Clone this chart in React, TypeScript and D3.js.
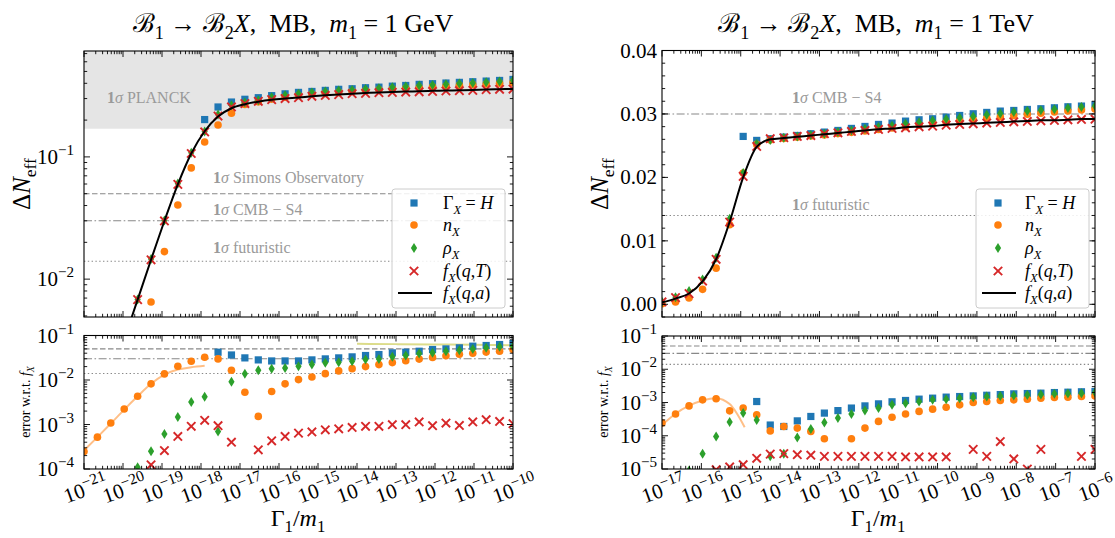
import React from 'react';
import * as d3 from 'd3';

// ---------- x grids (log10 of Gamma1/m1) ----------
const LEFT_EXP = [-21, -20.656, -20.313, -19.969, -19.625, -19.281, -18.938, -18.594, -18.25, -17.906, -17.563, -17.219, -16.875, -16.531, -16.188, -15.844, -15.5, -15.156, -14.813, -14.469, -14.125, -13.781, -13.438, -13.094, -12.75, -12.406, -12.063, -11.719, -11.375, -11.031, -10.688, -10.344, -10];
const RIGHT_EXP = [-17, -16.656, -16.313, -15.969, -15.625, -15.281, -14.938, -14.594, -14.25, -13.906, -13.563, -13.219, -12.875, -12.531, -12.188, -11.844, -11.5, -11.156, -10.813, -10.469, -10.125, -9.781, -9.438, -9.094, -8.75, -8.406, -8.063, -7.719, -7.375, -7.031, -6.688, -6.344, -6];

const N = null;
// ---------- left (m1 = 1 GeV) Delta N_eff ----------
const L_GAMMA_H = [N, N, N, N, N, N, N, N, N, 0.202, 0.256, 0.281, 0.296, 0.305, 0.317, 0.328, 0.337, 0.343, 0.350, 0.357, 0.361, 0.368, 0.372, 0.379, 0.384, 0.392, 0.397, 0.402, 0.407, 0.412, 0.417, 0.422, 0.430];
const L_NX = [N, N, N, N, N, 0.0065, 0.0168, 0.0404, 0.0813, 0.1325, 0.1824, 0.228, 0.268, 0.282, 0.297, 0.308, 0.318, 0.325, 0.331, 0.337, 0.343, 0.348, 0.354, 0.359, 0.364, 0.370, 0.375, 0.380, 0.385, 0.390, 0.395, 0.400, 0.407];
const L_RHOX = [N, N, N, N, 0.0068, 0.0146, 0.0302, 0.0605, 0.108, 0.161, 0.222, 0.264, 0.278, 0.290, 0.308, 0.319, 0.329, 0.336, 0.342, 0.349, 0.353, 0.360, 0.364, 0.371, 0.376, 0.383, 0.388, 0.393, 0.398, 0.403, 0.408, 0.413, 0.421];
const L_FQT = [N, N, N, N, 0.0068, 0.0144, 0.0299, 0.0596, 0.1066, 0.160, 0.216, 0.256, 0.273, 0.285, 0.294, 0.300, 0.305, 0.313, 0.318, 0.323, 0.329, 0.331, 0.335, 0.337, 0.339, 0.341, 0.343, 0.346, 0.348, 0.350, 0.355, 0.357, 0.359];
const L_FQA = [N, N, N, 0.0032, 0.0068, 0.0144, 0.0299, 0.0596, 0.1066, 0.162, 0.214, 0.250, 0.270, 0.283, 0.293, 0.300, 0.306, 0.313, 0.319, 0.324, 0.329, 0.333, 0.337, 0.340, 0.342, 0.345, 0.347, 0.349, 0.351, 0.353, 0.356, 0.358, 0.360];

// ---------- left errors ----------
const LE_GAMMA_H = [N, N, N, N, N, N, N, N, N, N, 0.0421, 0.0365, 0.0314, 0.0283, 0.0268, 0.0268, 0.0268, 0.0283, 0.0298, 0.0314, 0.0331, 0.0355, 0.0373, 0.0407, 0.0421, 0.0443, 0.0484, 0.050, 0.0528, 0.0575, 0.0596, 0.0627, 0.066];
const LE_NX = [2.48e-4, 5.2e-4, 1.08e-3, 2.23e-3, 4.3e-3, 8.2e-3, 0.0137, 0.0204, 0.0264, 0.0325, 0.0298, 0.0166, 5.3e-3, 1.52e-3, 5.5e-3, 8.2e-3, 0.0102, 0.0117, 0.0139, 0.0160, 0.0180, 0.0200, 0.0222, 0.0246, 0.0270, 0.0295, 0.0322, 0.0350, 0.0380, 0.0400, 0.0424, 0.0443, 0.0484];
const LE_RHOX = [N, N, N, N, 1.1e-4, 2.5e-4, 6.1e-4, 1.47e-3, 3.2e-3, 4.2e-3, 7.0e-4, 9.1e-3, 0.0139, 0.0166, 0.0178, 0.0187, 0.0204, 0.0222, 0.0243, 0.0251, 0.0264, 0.0288, 0.0298, 0.0331, 0.0355, 0.0393, 0.0407, 0.0443, 0.0467, 0.050, 0.0528, 0.0556, 0.0575];
const LE_FQT = [N, N, N, N, N, 1.24e-4, 2.6e-4, 5.4e-4, 9.1e-4, 1.24e-3, 9.4e-4, 4.0e-4, N, 2.7e-4, 4.3e-4, 5.4e-4, 6.4e-4, 6.8e-4, 7.6e-4, 8.0e-4, 8.6e-4, 9.1e-4, 9.1e-4, 9.9e-4, 9.9e-4, 1.14e-3, 9.4e-4, 1.08e-3, 9.5e-4, 1.14e-3, 1.28e-3, 1.17e-3, 1.04e-3];
const LE_NX_CURVE_EXP = [-21, -20.656, -20.313, -19.969, -19.625, -19.281, -18.938, -18.594, -18.25, -17.906];
const LE_NX_CURVE = [2.6e-4, 5.2e-4, 1.05e-3, 2.16e-3, 4.3e-3, 8.2e-3, 0.0132, 0.0172, 0.0193, 0.0208];
const LE_YELLOW_EXP = [-14, -13, -12, -11, -10];
const LE_YELLOW = [0.065, 0.064, 0.063, 0.062, 0.0605];

// ---------- right (m1 = 1 TeV) Delta N_eff ----------
const R_GAMMA_H = [N, N, N, N, N, N, 0.02646, 0.02583, 0.02609, 0.02635, 0.02661, 0.02688, 0.02714, 0.0274, 0.02772, 0.02803, 0.02835, 0.02856, 0.02887, 0.02908, 0.02924, 0.0295, 0.02976, 0.03003, 0.03024, 0.03045, 0.03055, 0.03071, 0.03082, 0.03097, 0.03113, 0.03124, 0.03145];
const R_NX = [0.0001, 0.00037, 0.001, 0.00236, 0.0057, 0.01255, 0.0207, 0.0252, 0.0259, 0.02615, 0.02633, 0.02652, 0.0267, 0.0269, 0.0271, 0.02732, 0.02755, 0.02778, 0.028, 0.02824, 0.02848, 0.0287, 0.02892, 0.02913, 0.02935, 0.02955, 0.02975, 0.02995, 0.03013, 0.0303, 0.03048, 0.03064, 0.0308];
const R_RHOX = [0.0004, 0.0011, 0.0021, 0.0039, 0.00735, 0.0135, 0.0207, 0.0253, 0.0259, 0.02625, 0.02646, 0.02667, 0.02688, 0.02714, 0.0274, 0.02766, 0.02793, 0.02814, 0.02845, 0.02871, 0.02898, 0.02919, 0.0294, 0.02961, 0.02987, 0.03008, 0.03029, 0.03045, 0.0306, 0.03076, 0.03092, 0.03108, 0.03124];
const R_FQT = [0.00037, 0.00105, 0.00168, 0.00367, 0.0071, 0.01297, 0.02016, 0.02488, 0.0261, 0.02625, 0.02646, 0.0266, 0.02688, 0.02703, 0.02724, 0.0274, 0.02756, 0.02772, 0.02782, 0.02798, 0.02808, 0.02824, 0.02835, 0.02845, 0.02856, 0.02866, 0.02877, 0.02882, 0.02892, 0.02898, 0.02908, 0.02913, 0.02918];
const R_FQA = [0.0003, 0.0009, 0.0017, 0.0036, 0.0071, 0.0130, 0.0200, 0.0248, 0.0260, 0.0262, 0.0264, 0.0266, 0.0268, 0.0270, 0.0272, 0.0274, 0.0276, 0.0277, 0.0279, 0.0280, 0.0281, 0.0283, 0.0284, 0.0285, 0.0286, 0.0287, 0.0288, 0.0289, 0.0290, 0.0290, 0.0291, 0.0292, 0.0292];

// ---------- right errors ----------
const RE_GAMMA_H = [N, N, N, N, N, N, N, 1.07e-3, 2.1e-4, 1.9e-4, 2.8e-4, 3.8e-4, 4.8e-4, 5.7e-4, 6.8e-4, 7.9e-4, 9.1e-4, 1.05e-3, 1.15e-3, 1.26e-3, 1.35e-3, 1.45e-3, 1.51e-3, 1.58e-3, 1.65e-3, 1.73e-3, 1.82e-3, 1.86e-3, 1.91e-3, 1.99e-3, 2.04e-3, 2.1e-3, 2.14e-3];
const RE_NX = [2.4e-4, 4.5e-4, 7.9e-4, 1.2e-3, 1.29e-3, 5.6e-4, 6.8e-4, 4.3e-4, 1.4e-4, 1.9e-4, 1.7e-4, 1.35e-4, 8.1e-5, N, 8.1e-5, 1.7e-4, 2.7e-4, 3.6e-4, 4.5e-4, 5.4e-4, 6.3e-4, 7.2e-4, 8.5e-4, 1.0e-3, 1.07e-3, 1.15e-3, 1.2e-3, 1.26e-3, 1.35e-3, 1.41e-3, 1.45e-3, 1.51e-3, 1.58e-3];
const RE_RHOX = [N, N, 9e-6, 2.9e-5, 9.5e-5, 2.6e-4, 4.8e-4, 3.0e-4, 2.4e-5, 2.9e-5, 8.9e-5, 1.6e-4, 2.5e-4, 3.4e-4, 4.5e-4, 5.7e-4, 6.8e-4, 8.5e-4, 9.5e-4, 1.07e-3, 1.2e-3, 1.26e-3, 1.35e-3, 1.45e-3, 1.51e-3, 1.58e-3, 1.62e-3, 1.69e-3, 1.73e-3, 1.82e-3, 1.86e-3, 1.91e-3, 1.99e-3];
const RE_FQT = [N, N, N, N, 9.5e-6, 1.15e-5, 1.35e-5, 2.1e-5, 2.8e-5, 2.9e-5, 2.7e-5, 2.6e-5, 2.4e-5, 2.4e-5, 2.4e-5, 2.4e-5, 2.4e-5, 2.4e-5, 2.3e-5, 2.3e-5, 2.3e-5, 2.3e-5, N, 3.9e-5, 2.4e-5, 6.7e-5, 2.0e-5, 1.0e-5, 3.9e-5, N, N, 2.4e-5, 3.9e-5];
const RE_NX_CURVE_EXP = [-17, -16.656, -16.313, -15.969, -15.625, -15.281, -14.9];
const RE_NX_CURVE = [2.1e-4, 4.6e-4, 8.0e-4, 1.15e-3, 1.35e-3, 9e-4, 1.8e-4];

// ---------- reference sensitivities ----------
const PLANCK = 0.17;
const SIMONS = 0.05;
const CMBS4 = 0.03;
const FUTURISTIC = 0.014;

const LEFT_X_TICKS = [-21, -20, -19, -18, -17, -16, -15, -14, -13, -12, -11, -10];
const RIGHT_X_TICKS = [-17, -16, -15, -14, -13, -12, -11, -10, -9, -8, -7, -6];
const RIGHT_TOP_Y_TICKS = [0, 0.01, 0.02, 0.03, 0.04];

const BLUE = '#1f77b4', ORANGE = '#ff7f0e', GREEN = '#2ca02c', RED = '#d62728';
const FONT = "'Liberation Serif','DejaVu Serif',serif";

type Part = [string, string?];

function MT({ x = 0, y = 0, parts, size, anchor = 'start', fill = '#000', transform, subRatio = 0.7 }: any) {
  let cur = 0;
  const kids = parts.map((p: Part, i: number) => {
    const t = p[0];
    const s = p[1] || 'r';
    let shift = 0, fs = size, it = false, bold = false;
    if (s === 's' || s === 'si') { shift = size * 0.25; fs = size * subRatio; }
    if (s === 'p') { shift = -size * 0.42; fs = size * subRatio; }
    if (s === 'i' || s === 'si') it = true;
    if (s === 'b') bold = true;
    const dy = shift - cur;
    cur = shift;
    return (
      <tspan key={i} dy={dy} fontSize={fs} fontStyle={it ? 'italic' : 'normal'} fontWeight={bold ? 'bold' : 'normal'}>{t}</tspan>
    );
  });
  return (
    <text x={x} y={y} textAnchor={anchor} fill={fill} transform={transform} fontFamily={FONT} fontSize={size} style={{ whiteSpace: 'pre' }}>{kids}</text>
  );
}

const pow10 = (e: number): Part[] => [['10'], ['\u2212' + Math.abs(e), 'p']];

function marker(kind: string, x: number, y: number, key: any) {
  if (kind === 'sq') return <rect key={key} x={x - 3.6} y={y - 3.6} width={7.2} height={7.2} fill={BLUE} />;
  if (kind === 'ci') return <circle key={key} cx={x} cy={y} r={3.8} fill={ORANGE} />;
  if (kind === 'di') return <path key={key} d={`M${x},${y - 5}L${x + 3.1},${y}L${x},${y + 5}L${x - 3.1},${y}Z`} fill={GREEN} />;
  return (
    <g key={key} stroke={RED} strokeWidth={1.9}>
      <line x1={x - 4.2} y1={y - 4.2} x2={x + 4.2} y2={y + 4.2} />
      <line x1={x - 4.2} y1={y + 4.2} x2={x + 4.2} y2={y - 4.2} />
    </g>
  );
}

const DASH: any = { dashed: '5.5,2.5', dashdot: '8,2.5,1.6,2.5', dotted: '1.4,2.4' };

function Panel({ c }: any) {
  const { id, x0, x1, y0, y1 } = c;
  const x = d3.scaleLog().domain([Math.pow(10, c.xExp[0]), Math.pow(10, c.xExp[1])]).range([x0, x1]);
  const y: any = c.yType === 'log'
    ? d3.scaleLog().domain(c.yDom).range([y1, y0])
    : d3.scaleLinear().domain(c.yDom).range([y1, y0]);
  const X = (e: number) => x(Math.pow(10, e));

  const xMaj: number[] = [];
  const xMin: number[] = [];
  for (let e = c.xExp[0]; e <= c.xExp[1]; e++) {
    xMaj.push(X(e));
    if (e < c.xExp[1]) for (let m = 2; m <= 9; m++) xMin.push(x(m * Math.pow(10, e)));
  }
  const yMaj: number[] = [];
  const yMin: number[] = [];
  if (c.yType === 'log') {
    const [lo, hi] = c.yDom;
    for (let e = Math.floor(Math.log10(lo)); e <= Math.ceil(Math.log10(hi)); e++) {
      const v = Math.pow(10, e);
      if (v >= lo * 0.999 && v <= hi * 1.001) yMaj.push(y(v));
      for (let m = 2; m <= 9; m++) {
        const w = m * v;
        if (w >= lo && w <= hi) yMin.push(y(w));
      }
    }
  } else {
    for (let i = 0; i <= 4; i++) yMaj.push(y(i * 0.01));
    for (let v = -0.002; v <= 0.0401; v += 0.002) yMin.push(y(v));
  }
  const ML = 6, mL = 3.2;
  const line = d3.line<any>().defined((d: any) => d[1] != null).x((d: any) => X(d[0])).y((d: any) => y(d[1])).curve(d3.curveMonotoneX);

  return (
    <g>
      <defs>
        <clipPath id={'clip' + id}><rect x={x0} y={y0} width={x1 - x0} height={y1 - y0} /></clipPath>
      </defs>
      <g clipPath={`url(#clip${id})`}>
        {c.band && <rect x={x0} y={y(c.band[1])} width={x1 - x0} height={y(c.band[0]) - y(c.band[1])} fill="#e5e5e5" />}
        {(c.hlines || []).map((h: any, i: number) => (
          <line key={i} x1={x0} x2={x1} y1={y(h.v)} y2={y(h.v)} stroke="#888" strokeWidth={1.1} strokeDasharray={DASH[h.dash]} />
        ))}
        {(c.curves || []).map((cv: any, i: number) => (
          <path key={i} d={line(cv.exp.map((e: number, j: number) => [e, cv.vals[j]])) || ''} fill="none" stroke={cv.color} strokeWidth={cv.width} />
        ))}
        {(c.series || []).map((s: any, i: number) => (
          <g key={i}>{s.vals.map((v: any, j: number) => v == null ? null : marker(s.kind, X(s.exp[j]), y(v), j))}</g>
        ))}
        {(c.topLines || []).map((cv: any, i: number) => (
          <path key={i} d={line(cv.exp.map((e: number, j: number) => [e, cv.vals[j]])) || ''} fill="none" stroke={cv.color} strokeWidth={cv.width} />
        ))}
      </g>
      {(c.texts || []).map((t: any, i: number) => (
        <MT key={i} x={t.x} y={t.y} parts={t.parts} size={16} fill="#9a9a9a" />
      ))}
      <g stroke="#000" strokeWidth={0.9}>
        {xMaj.map((v, i) => <g key={'xa' + i}><line x1={v} x2={v} y1={y1} y2={y1 - ML} /><line x1={v} x2={v} y1={y0} y2={y0 + ML} /></g>)}
        {xMin.map((v, i) => <g key={'xi' + i}><line x1={v} x2={v} y1={y1} y2={y1 - mL} /><line x1={v} x2={v} y1={y0} y2={y0 + mL} /></g>)}
        {yMaj.map((v, i) => <g key={'ya' + i}><line y1={v} y2={v} x1={x0} x2={x0 + ML} /><line y1={v} y2={v} x1={x1} x2={x1 - ML} /></g>)}
        {yMin.map((v, i) => <g key={'yi' + i}><line y1={v} y2={v} x1={x0} x2={x0 + mL} /><line y1={v} y2={v} x1={x1} x2={x1 - mL} /></g>)}
      </g>
      <rect x={x0} y={y0} width={x1 - x0} height={y1 - y0} fill="none" stroke="#000" strokeWidth={1.1} />
      {(c.yLabels || []).map((l: any, i: number) => (
        <MT key={i} x={c.yLabelX} y={y(l.v) + 7} parts={l.parts} size={21} anchor="end" subRatio={0.72} />
      ))}
      {c.xLabels && c.xLabels.map((e: number, i: number) => (
        <MT key={i} parts={pow10(e)} size={21} subRatio={0.74} anchor="middle" transform={`translate(${X(e) + 2},${y1 + 21}) rotate(-20)`} y={6} />
      ))}
      {c.legend && (
        <g>
          <rect x={c.legend.bx} y={c.legend.by} width={113} height={119} rx={3} fill="#fff" fillOpacity={0.85} stroke="#cccccc" strokeWidth={1} />
          {marker('sq', c.legend.mx, c.legend.rows[0], 'l0')}
          {marker('ci', c.legend.mx, c.legend.rows[1], 'l1')}
          {marker('di', c.legend.mx, c.legend.rows[2], 'l2')}
          {marker('x', c.legend.mx, c.legend.rows[3], 'l3')}
          <line x1={c.legend.mx - 16} x2={c.legend.mx + 18} y1={c.legend.rows[4]} y2={c.legend.rows[4]} stroke="#000" strokeWidth={2} />
          <MT x={c.legend.tx} y={c.legend.rows[0] + 6} size={18} parts={[['\u0393'], ['X', 'si'], [' = '], ['H', 'i']]} />
          <MT x={c.legend.tx} y={c.legend.rows[1] + 6} size={18} parts={[['n', 'i'], ['X', 'si']]} />
          <MT x={c.legend.tx} y={c.legend.rows[2] + 6} size={18} parts={[['\u03c1', 'i'], ['X', 'si']]} />
          <MT x={c.legend.tx} y={c.legend.rows[3] + 6} size={18} parts={[['f', 'i'], ['X', 'si'], ['('], ['q', 'i'], [','], ['T', 'i'], [')']]} />
          <MT x={c.legend.tx} y={c.legend.rows[4] + 6} size={18} parts={[['f', 'i'], ['X', 'si'], ['('], ['q', 'i'], [','], ['a', 'i'], [')']]} />
        </g>
      )}
    </g>
  );
}

const seriesOf = (exp: number[], gh: any[], nx: any[], rho: any[], fqt: any[]) => [
  { kind: 'sq', exp, vals: gh },
  { kind: 'ci', exp, vals: nx },
  { kind: 'di', exp, vals: rho },
  { kind: 'x', exp, vals: fqt },
];

const sig = (rest: string): Part[] => [['1', 'b'], ['\u03c3', 'i'], [rest]];

export default function App() {
  const rows = [203, 225, 248, 271, 293];
  const LT = {
    id: 'lt', x0: 84, x1: 513, y0: 51, y1: 317, xExp: [-21, -10], yType: 'log', yDom: [0.0049, 0.735],
    band: [PLANCK, 0.735],
    hlines: [{ v: SIMONS, dash: 'dashed' }, { v: CMBS4, dash: 'dashdot' }, { v: FUTURISTIC, dash: 'dotted' }],
    texts: [
      { x: 107, y: 103, parts: sig(' PLANCK') },
      { x: 213, y: 183, parts: sig(' Simons Observatory') },
      { x: 213, y: 215, parts: sig(' CMB \u2212 S4') },
      { x: 213, y: 253, parts: sig(' futuristic') },
    ],
    series: seriesOf(LEFT_EXP, L_GAMMA_H, L_NX, L_RHOX, L_FQT),
    topLines: [{ exp: LEFT_EXP, vals: L_FQA, color: '#000', width: 2 }],
    yLabelX: 74, yLabels: [{ v: 0.1, parts: pow10(-1) }, { v: 0.01, parts: pow10(-2) }],
    legend: { bx: 392, by: 189, mx: 414, tx: 443, rows },
  };
  const LB = {
    id: 'lb', x0: 84, x1: 513, y0: 335.5, y1: 469, xExp: [-21, -10], yType: 'log', yDom: [1e-4, 1e-1],
    hlines: [{ v: SIMONS, dash: 'dashed' }, { v: CMBS4, dash: 'dashdot' }, { v: FUTURISTIC, dash: 'dotted' }],
    curves: [
      { exp: LE_NX_CURVE_EXP, vals: LE_NX_CURVE, color: '#ffbf87', width: 2 },
      { exp: LE_YELLOW_EXP, vals: LE_YELLOW, color: '#dcdc8a', width: 2 },
    ],
    series: seriesOf(LEFT_EXP, LE_GAMMA_H, LE_NX, LE_RHOX, LE_FQT),
    yLabelX: 74, yLabels: [-1, -2, -3, -4].map(e => ({ v: Math.pow(10, e), parts: pow10(e) })),
    xLabels: LEFT_X_TICKS,
  };
  const RT = {
    id: 'rt', x0: 662, x1: 1095, y0: 50.5, y1: 317, xExp: [-17, -6], yType: 'lin', yDom: [-0.002, 0.04],
    hlines: [{ v: CMBS4, dash: 'dashdot' }, { v: FUTURISTIC, dash: 'dotted' }],
    texts: [
      { x: 792, y: 103, parts: sig(' CMB \u2212 S4') },
      { x: 792, y: 210, parts: sig(' futuristic') },
    ],
    series: seriesOf(RIGHT_EXP, R_GAMMA_H, R_NX, R_RHOX, R_FQT),
    topLines: [{ exp: RIGHT_EXP, vals: R_FQA, color: '#000', width: 2 }],
    yLabelX: 657, yLabels: RIGHT_TOP_Y_TICKS.map(v => ({ v, parts: [[v.toFixed(2)]] })),
    legend: { bx: 976, by: 189, mx: 998, tx: 1025, rows },
  };
  const RB = {
    id: 'rb', x0: 662, x1: 1095, y0: 336, y1: 469, xExp: [-17, -6], yType: 'log', yDom: [1e-5, 1e-1],
    hlines: [{ v: SIMONS, dash: 'dashed' }, { v: CMBS4, dash: 'dashdot' }, { v: FUTURISTIC, dash: 'dotted' }],
    curves: [{ exp: RE_NX_CURVE_EXP, vals: RE_NX_CURVE, color: '#ffbf87', width: 2 }],
    series: seriesOf(RIGHT_EXP, RE_GAMMA_H, RE_NX, RE_RHOX, RE_FQT),
    yLabelX: 657, yLabels: [-1, -2, -3, -4, -5].map(e => ({ v: Math.pow(10, e), parts: pow10(e) })),
    xLabels: RIGHT_X_TICKS,
  };

  const title = (unit: string): Part[] => [
    ['\u212c'], ['1', 's'], [' \u2192 '], ['\u212c'], ['2', 's'], ['X', 'i'], [',  MB,  '], ['m', 'i'], ['1', 's'], [' = 1 ' + unit],
  ];
  const xlab: Part[] = [['\u0393'], ['1', 's'], ['/'], ['m', 'i'], ['1', 's']];
  const dn: Part[] = [['\u0394'], ['N', 'i'], ['eff', 's']];
  const err: Part[] = [['error w.r.t. '], ['f', 'i'], ['X', 'si']];

  return (
    <svg width={1115} height={538} style={{ position: 'absolute', left: 0, top: 0, background: '#fff' }}>
      <rect width={1115} height={538} fill="#fff" />
      <Panel c={LT} />
      <Panel c={LB} />
      <Panel c={RT} />
      <Panel c={RB} />
      <MT x={293} y={32} size={26} anchor="middle" parts={title('GeV')} />
      <MT x={876} y={32} size={26} anchor="middle" parts={title('TeV')} />
      <MT x={298} y={526} size={24} anchor="middle" parts={xlab} />
      <MT x={878} y={526} size={24} anchor="middle" parts={xlab} />
      <MT size={25} anchor="middle" parts={dn} transform="translate(30,184) rotate(-90)" />
      <MT size={25} anchor="middle" parts={dn} transform="translate(608,184) rotate(-90)" />
      <MT size={14} anchor="middle" parts={err} transform="translate(30,402) rotate(-90)" />
      <MT size={14} anchor="middle" parts={err} transform="translate(608,402) rotate(-90)" />
    </svg>
  );
}
